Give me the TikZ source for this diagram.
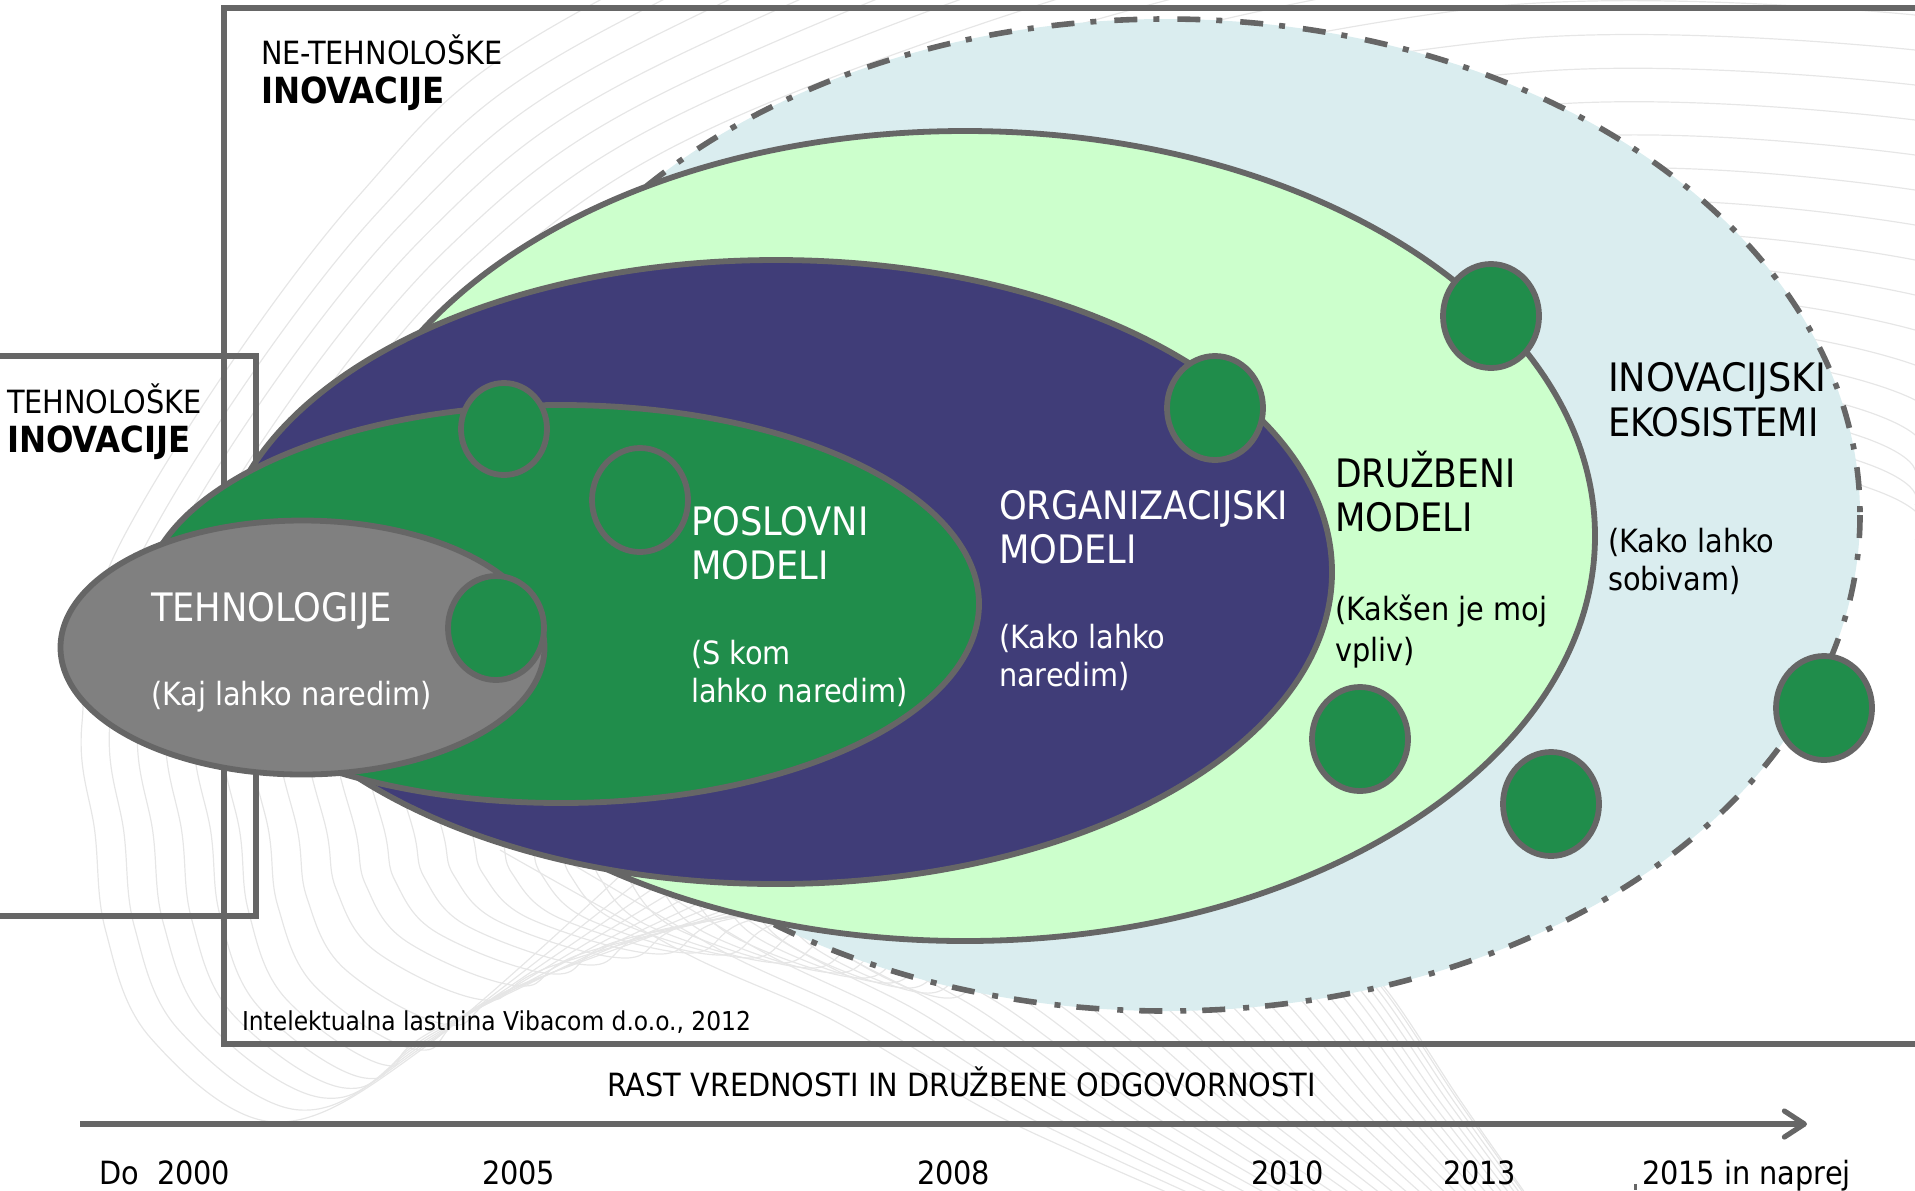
\documentclass[tikz,border=0pt]{standalone}
\usepackage{fontspec}
\usepackage{graphicx}
\setmainfont{DejaVu Sans Condensed}
\usetikzlibrary{arrows.meta}
\definecolor{strk}{HTML}{666666}
\definecolor{curve}{HTML}{E6E6E6}
\definecolor{eco}{HTML}{DAEDEF}
\definecolor{soc}{HTML}{CCFFCC}
\definecolor{org}{HTML}{403D78}
\definecolor{biz}{HTML}{208D4B}
\definecolor{tech}{HTML}{808080}
\newcommand{\pp}[5]{\coordinate (#1) at ({#2+(#4-#2)*\t},{#3+(#5-#3)*\t});}
\tikzset{
  bgcurve/.style={draw=curve,line width=0.6pt},
  frame/.style={draw=strk,line width=2.6pt},
  oval/.style={draw=strk,line width=2.9pt},
  dot/.style={draw=strk,line width=2.9pt,fill=biz},
  lbl/.style={anchor=base west,inner sep=0pt,outer sep=0pt},
  big/.style={lbl,font=\fontsize{19.6pt}{22pt}\selectfont},
  mid/.style={lbl,font=\fontsize{16pt}{20pt}\selectfont},
  small/.style={lbl,font=\fontsize{13pt}{17pt}\selectfont},
  boldl/.style={lbl,font=\fontsize{18pt}{20pt}\selectfont\bfseries},
}
\begin{document}
\begin{tikzpicture}[x=0.5pt,y=-0.5pt]
\useasboundingbox (0,0) rectangle (1915,1190);
\begin{scope}
\clip (0,0) rectangle (1915,1190);
% family of arcs: right edge, over the top, down the left, bottom, rising again
\foreach \k/\xb/\yb/\xr/\yr in {
 0/275/1122/425/1047, 1/300/1110/428/1043, 2/325/1098/431/1039, 3/345/1088/434/1035,
 4/365/1078/437/1031, 5/385/1065/440/1027, 6/420/1050/490/1000, 7/450/1025/520/985,
 8/485/1000/555/965, 9/520/986/590/951, 10/555/974/625/939, 11/590/965/660/930,
 12/625/958/695/923, 13/660/954/730/919, 14/690/953/760/918, 15/720/955/790/920,
 16/750/958/820/923, 17/780/963/850/928, 18/810/968/880/933, 19/835/973/905/938,
 20/860/978/930/943, 21/885/983/955/948, 22/905/988/975/953, 23/925/993/995/958,
 24/945/998/1015/963}{
  \pgfmathsetmacro{\t}{\k/24}
  \pp{a1}{1915}{-300}{1915}{540}
  \pp{a2}{1245}{-280}{1869}{488}
  \pp{a3}{600}{0}{1400}{360}
  \pp{a4}{355}{200}{900}{500}
  \pp{a5}{122}{540}{700}{640}
  \pp{a6}{82}{723}{750}{740}
  \pgfmathsetmacro{\xs}{95+29*\k}
  \coordinate (a7) at (\xs,833);
  \coordinate (a8) at ({\xs+0.06*(\xb-\xs)},{833+0.34*(\yb-833)});
  \coordinate (a9) at ({\xs+0.31*(\xb-\xs)},{833+0.71*(\yb-833)});
  \coordinate (a10) at (\xb,\yb);
  \coordinate (a11) at (\xr,\yr);
  \coordinate (a12) at ({640+25*\k},{857+3*\k});
  \draw[bgcurve] plot[smooth,tension=0.6] coordinates {(a1)(a2)(a3)(a4)(a5)(a6)(a7)(a8)(a9)(a10)(a11)(a12)};
}
% family of slanting lines converging at the lower right
\foreach \s in {0,1,...,28}{
  \pgfmathsetmacro{\t}{1-(1-\s/28)^1.6}
  \pp{b0}{500}{850}{1100}{700}
  \pp{b1}{689}{955}{1300}{900}
  \pp{b2}{829}{1018}{1385}{988}
  \pp{b3}{1000}{1117}{1460}{1100}
  \pp{b4}{1185}{1200}{1530}{1200}
  \draw[bgcurve] plot[smooth,tension=0.5] coordinates {(b0)(b1)(b2)(b3)(b4)};
}
\end{scope}
% frames
\draw[frame] (1930,8) -- (224,8) -- (224,1044) -- (1930,1044);
\draw[frame] (-15,356) -- (256,356) -- (256,916) -- (-15,916);
% nested ellipses
\fill[eco] (1166,515) ellipse [x radius=694,y radius=496];
\draw[strk,line width=2.8pt,dash pattern=on 11.5pt off 8pt on 3pt off 9pt] (1166,515) ellipse [x radius=694,y radius=496];
\draw[oval,fill=soc] (965,536) ellipse [x radius=630,y radius=405];
\draw[oval,fill=org] (776,572) ellipse [x radius=556,y radius=312];
\draw[oval,fill=biz] (561,604) ellipse [x radius=418,y radius=199];
\draw[oval,fill=tech] (302.5,647.5) ellipse [x radius=242,y radius=127];
% small circles
\draw[dot] (504,429) ellipse [x radius=43,y radius=46];
\draw[dot] (640,500) ellipse [x radius=48,y radius=52];
\draw[dot] (496,628) ellipse [x radius=48,y radius=52];
\draw[dot] (1215,408) ellipse [x radius=48,y radius=52];
\draw[dot] (1491,316) ellipse [x radius=48,y radius=52];
\draw[dot] (1360,739) ellipse [x radius=48,y radius=52];
\draw[dot] (1551,804) ellipse [x radius=48,y radius=52];
\draw[dot] (1824,708) ellipse [x radius=48,y radius=52];
% axis
\coordinate (axisstart) at (80,1124);
\coordinate (axisend) at (1807,1124);
\draw[strk,line width=2.6pt,-{Straight Barb[length=10pt,width=13pt,line width=2.6pt,round]}] (axisstart) -- (axisend);
\coordinate (ticktop) at (1635,1184);
\coordinate (tickend) at (1635,1190);
\draw[strk,line width=1.5pt] (ticktop) -- (tickend);
% texts
\node[mid] (ne1) at (261,64) {NE-TEHNOLOŠKE};
\node[boldl] (ne2) at (261,103) {INOVACIJE};
\node[mid] (te1) at (7,413) {TEHNOLOŠKE};
\node[boldl] (te2) at (7,452) {INOVACIJE};
\node[big,text=white] (t1) at (151,621) {TEHNOLOGIJE};
\node[mid,text=white] (t2) at (151,705) {(Kaj lahko naredim)};
\node[big,text=white] (p1) at (691,535) {POSLOVNI};
\node[big,text=white] (p2) at (691,579) {MODELI};
\node[mid,text=white] (p3) at (691,664) {(S kom};
\node[mid,text=white] (p4) at (691,702) {lahko naredim)};
\node[big,text=white] (o1) at (999,519) {ORGANIZACIJSKI};
\node[big,text=white] (o2) at (999,563) {MODELI};
\node[mid,text=white] (o3) at (999,648) {(Kako lahko};
\node[mid,text=white] (o4) at (999,686) {naredim)};
\node[big] (d1) at (1335,487) {\scalebox{0.98}[1]{DRUŽBENI}};
\node[big] (d2) at (1335,531) {MODELI};
\node[mid] (d3) at (1335,620) {(Kakšen je moj};
\node[mid] (d4) at (1335,661) {vpliv)};
\node[big] (i1) at (1608,391) {\scalebox{1.04}[1]{INOVACIJSKI}};
\node[big] (i2) at (1608,436) {EKOSISTEMI};
\node[mid] (i3) at (1608,552) {(Kako lahko};
\node[mid] (i4) at (1608,590) {sobivam)};
\node[small] (cr) at (242,1030) {Intelektualna lastnina Vibacom d.o.o., 2012};
\node[mid] (rast) at (607,1096) {RAST VREDNOSTI IN DRUŽBENE ODGOVORNOSTI};
\node[mid] (y0) at (99,1184) {Do\ \ 2000};
\node[mid] (y1) at (482,1184) {2005};
\node[mid] (y2) at (917,1184) {2008};
\node[mid] (y3) at (1251,1184) {2010};
\node[mid] (y4) at (1443,1184) {2013};
\node[mid] (y5) at (1642,1184) {2015 in naprej};
\end{tikzpicture}
\end{document}
